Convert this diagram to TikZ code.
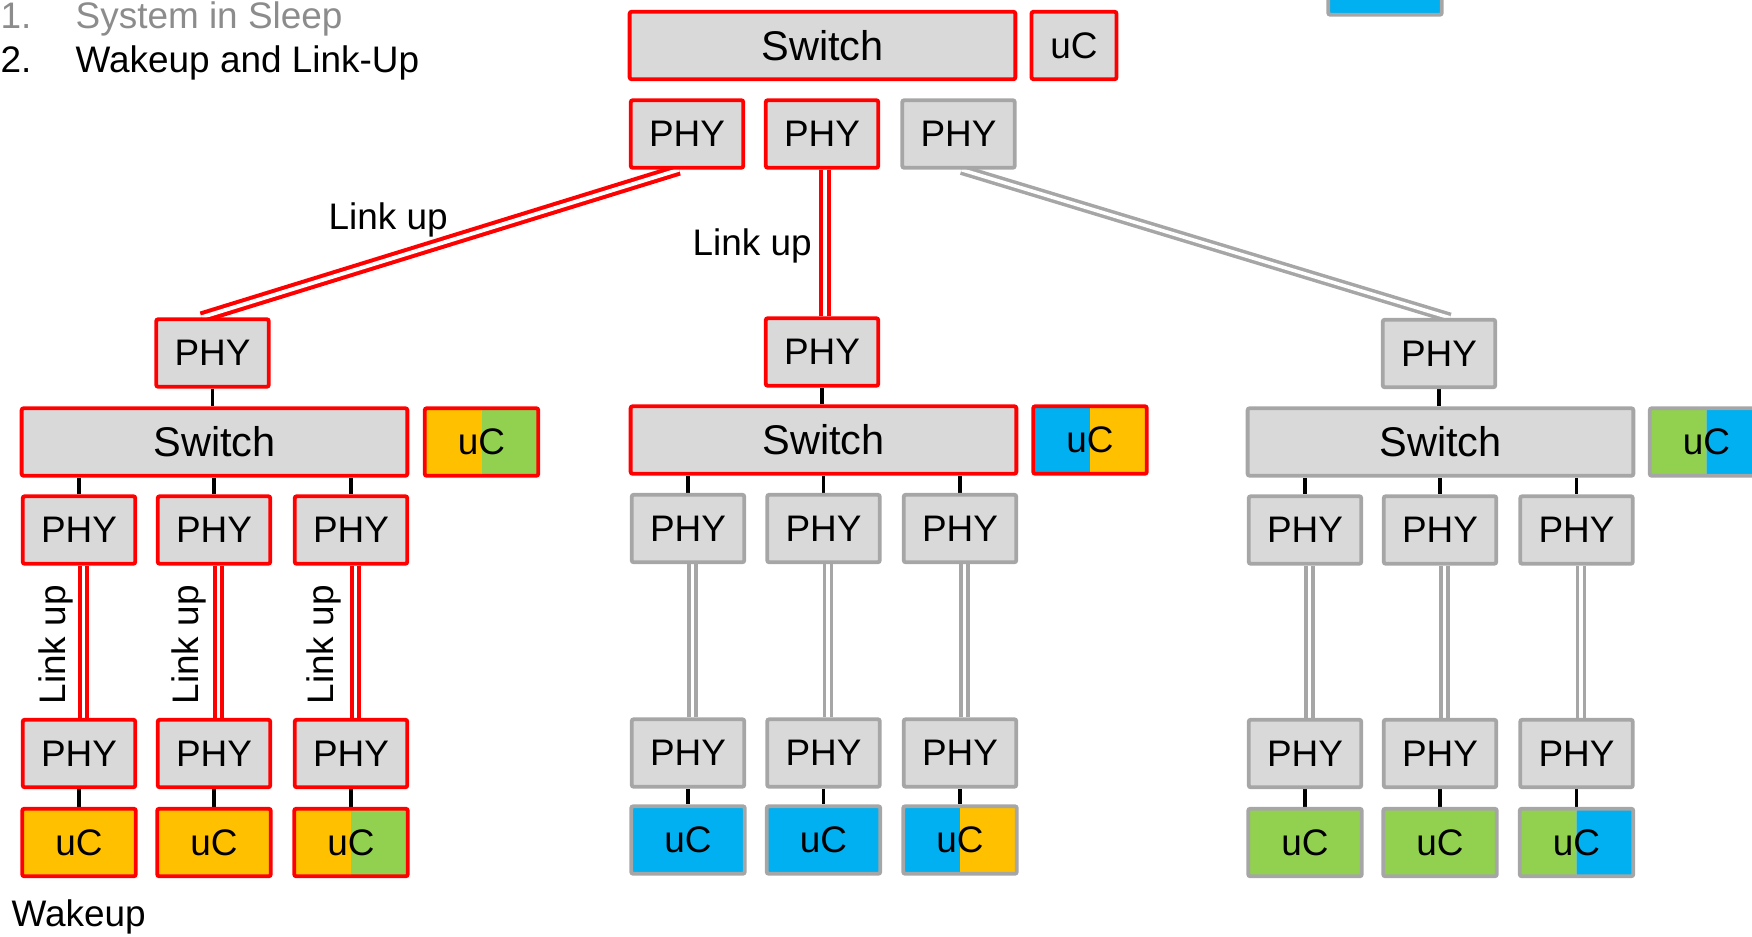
\documentclass[tikz,border=0pt]{standalone}
\usepackage{fontspec}
\setmainfont{Liberation Sans}
\usetikzlibrary{backgrounds}
\definecolor{boxgray}{HTML}{D9D9D9}
\definecolor{edgegray}{HTML}{A6A6A6}
\definecolor{ucorange}{HTML}{FFC000}
\definecolor{ucgreen}{HTML}{92D050}
\definecolor{ucblue}{HTML}{00B0F0}
\definecolor{textgray}{HTML}{8C8C8C}
\tikzset{
 base/.style={rectangle, fill=boxgray, line width=1.1pt, rounded corners=0.6pt, inner sep=0pt, text=black, font=\fontsize{10.5}{12}\selectfont},
 on/.style={base, draw=red},
 off/.style={base, draw=edgegray},
 phy/.style={minimum width=1.125cm, minimum height=0.675cm},
 sw/.style={minimum width=3.855cm, minimum height=0.675cm, font=\fontsize{11.8}{14}\selectfont},
 uc/.style={minimum width=1.135cm, minimum height=0.675cm},
 smalluc/.style={minimum width=0.85cm, minimum height=0.675cm},
 split/.style 2 args={path picture={\fill[#1] (path picture bounding box.south west) rectangle (path picture bounding box.north); \fill[#2] (path picture bounding box.north) rectangle (path picture bounding box.south east);}},
 stub/.style={line width=1.1pt, draw=black},
 linkon/.style={draw=red, double=white, line width=1.15pt, double distance=1.1pt},
 linkoff/.style={draw=edgegray, double=white, line width=1pt, double distance=1pt},
 lbl/.style={font=\fontsize{10.5}{12}\selectfont, inner sep=0pt}
}
\begin{document}
\begin{tikzpicture}[x=0.01cm,y=-0.01cm]
\useasboundingbox (0,0) rectangle (1752,936);
\clip (0,0) rectangle (1752,936);

% list text
\node[lbl, text=textgray, anchor=base west] (n1) at (0,28) {1.};
\node[lbl, text=textgray, anchor=base west] (t1) at (75,28) {System in Sleep};
\node[lbl, anchor=base west] (n2) at (0,72) {2.};
\node[lbl, anchor=base west] (t2) at (75,72) {Wakeup and Link-Up};

% legend box (cut off at top)
\node[off, uc, fill=ucblue] (legend) at (1385,-19) {};

% top level
\node[on, sw] (TS) at (822.5,45.5) {Switch};
\node[on, smalluc] (TU) at (1074,45.5) {uC};
\node[on, phy] (T1) at (687,134) {PHY};
\node[on, phy] (T2) at (822,134) {PHY};
\node[off, phy] (T3) at (958.5,134) {PHY};

% left subtree
\node[on, phy] (LP) at (212.5,353) {PHY};
\node[on, sw] (LS) at (214.5,442) {Switch};
\node[on, uc, split={ucorange}{ucgreen}] (LU) at (481.5,442) {uC};
\node[on, phy] (LR1) at (79,530) {PHY};
\node[on, phy] (LR2) at (214,530) {PHY};
\node[on, phy] (LR3) at (351,530) {PHY};
\node[on, phy] (LB1) at (79,753.5) {PHY};
\node[on, phy] (LB2) at (214,753.5) {PHY};
\node[on, phy] (LB3) at (351,753.5) {PHY};
\node[on, uc, fill=ucorange] (LC1) at (79,842.5) {uC};
\node[on, uc, fill=ucorange] (LC2) at (214,842.5) {uC};
\node[on, uc, split={ucorange}{ucgreen}] (LC3) at (351,842.5) {uC};

% middle subtree
\node[on, phy] (MP) at (822,352) {PHY};
\node[on, sw] (MS) at (823.5,440) {Switch};
\node[on, uc, split={ucblue}{ucorange}] (MU) at (1090,440) {uC};
\node[off, phy] (MR1) at (688,528.5) {PHY};
\node[off, phy] (MR2) at (823.5,528.5) {PHY};
\node[off, phy] (MR3) at (960,528.5) {PHY};
\node[off, phy] (MB1) at (688,753) {PHY};
\node[off, phy] (MB2) at (823.5,753) {PHY};
\node[off, phy] (MB3) at (960,753) {PHY};
\node[off, uc, fill=ucblue] (MC1) at (688,840) {uC};
\node[off, uc, fill=ucblue] (MC2) at (823.5,840) {uC};
\node[off, uc, split={ucblue}{ucorange}] (MC3) at (960,840) {uC};

% right subtree
\node[off, phy] (RP) at (1439,353.5) {PHY};
\node[off, sw] (RS) at (1440.5,442) {Switch};
\node[off, uc, split={ucgreen}{ucblue}] (RU) at (1706.5,442) {uC};
\node[off, phy] (RR1) at (1305,530) {PHY};
\node[off, phy] (RR2) at (1440,530) {PHY};
\node[off, phy] (RR3) at (1576.5,530) {PHY};
\node[off, phy] (RB1) at (1305,753.5) {PHY};
\node[off, phy] (RB2) at (1440,753.5) {PHY};
\node[off, phy] (RB3) at (1576.5,753.5) {PHY};
\node[off, uc, fill=ucgreen] (RC1) at (1305,842.5) {uC};
\node[off, uc, fill=ucgreen] (RC2) at (1440,842.5) {uC};
\node[off, uc, split={ucgreen}{ucblue}] (RC3) at (1576.5,842.5) {uC};

% labels
\node[lbl, anchor=base west] (lk1) at (328,229) {Link up};
\node[lbl, anchor=base west] (lk2) at (692,255) {Link up};
\node[lbl, anchor=base west, rotate=90] (lk3) at (65,705) {Link up};
\node[lbl, anchor=base west, rotate=90] (lk4) at (198,705) {Link up};
\node[lbl, anchor=base west, rotate=90] (lk5) at (333,705) {Link up};
\node[lbl, anchor=base west] (wk) at (11,926) {Wakeup};

\begin{scope}[on background layer]
% top links
\draw[linkon] ([xshift=-0.08cm]T1.south) -- ([xshift=-0.11cm]LP.north);
\draw[linkon] ([xshift=0.03cm]T2.south) -- ([xshift=0.03cm]MP.north);
\draw[linkoff] ([xshift=0.03cm]T3.south) -- ([xshift=0.11cm]RP.north);
% vertical links
\foreach \a/\b in {LR1/LB1, LR2/LB2, LR3/LB3}
  \draw[linkon] ([xshift=0.045cm]\a.south) -- ([xshift=0.045cm]\b.north);
\foreach \a/\b in {MR1/MB1, MR2/MB2, MR3/MB3, RR1/RB1, RR2/RB2, RR3/RB3}
  \draw[linkoff] ([xshift=0.045cm]\a.south) -- ([xshift=0.045cm]\b.north);
% stubs
\foreach \p/\s in {LP/LS, MP/MS, RP/RS}
  \draw[stub] (\p.south) -- (\p.south |- \s.north);
\foreach \s/\r in {LS/LR1, LS/LR2, LS/LR3, MS/MR1, MS/MR2, MS/MR3, RS/RR1, RS/RR2, RS/RR3}
  \draw[stub] (\r.north |- \s.south) -- (\r.north);
\foreach \b/\c in {LB1/LC1, LB2/LC2, LB3/LC3, MB1/MC1, MB2/MC2, MB3/MC3, RB1/RC1, RB2/RC2, RB3/RC3}
  \draw[stub] (\b.south) -- (\c.north);
\end{scope}
\end{tikzpicture}
\end{document}
